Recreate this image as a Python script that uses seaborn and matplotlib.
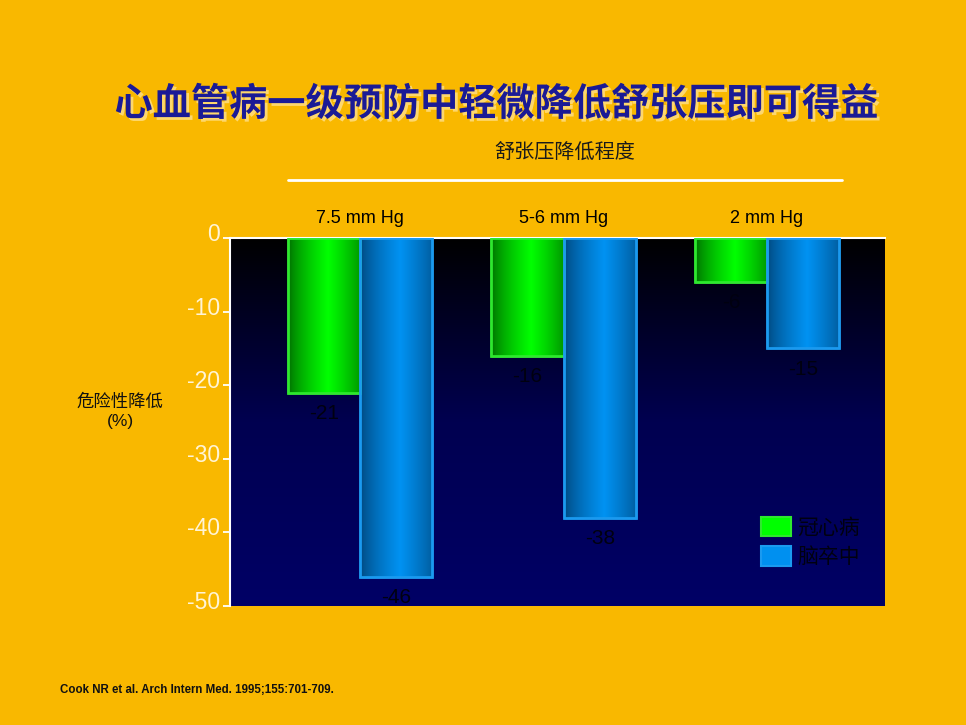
import matplotlib
matplotlib.use("Agg")
import matplotlib.pyplot as plt
import matplotlib.patheffects as pe
import matplotlib.transforms as mtransforms
from matplotlib.colors import LinearSegmentedColormap
import numpy as np
import pandas as pd
import seaborn as sns

# data
groups = ['7.5 mm Hg', '5-6 mm Hg', '2 mm Hg']
series = ['冠心病', '脑卒中']
chd = [-21, -16, -6]
stroke = [-46, -38, -15]
yticks = [0, -10, -20, -30, -40, -50]

df = pd.DataFrame({
    'group': groups * 2,
    'type': [series[0]] * 3 + [series[1]] * 3,
    'value': chd + stroke,
})

sns.set_theme(style='white')
plt.rcParams['font.family'] = ['Liberation Sans', 'Noto Sans CJK SC', 'DejaVu Sans']
plt.rcParams['axes.unicode_minus'] = False

BG = '#F9B800'
fig = plt.figure(figsize=(9.66, 7.25), dpi=100, facecolor=BG)
ax = fig.add_axes([230 / 966, 1 - 606 / 725, 655 / 966, 368 / 725])

palette = {series[0]: '#00FF00', series[1]: '#0090F0'}
sns.barplot(data=df, x='group', y='value', hue='type', order=groups,
            hue_order=series, palette=palette, width=0.71, ax=ax,
            saturation=1, legend=True, zorder=3)

ax.set_xlim(-0.64, 2.58)
ax.set_ylim(-50, 0)

# background gradient: black on top, navy below
bg = np.linspace(0, 1, 256).reshape(-1, 1)
bg_cmap = LinearSegmentedColormap.from_list('bg', ['#000000', '#000050', '#000066'])
ax.imshow(bg, cmap=bg_cmap, aspect='auto', extent=[0, 1, 0, 1],
          transform=ax.transAxes, zorder=0, origin='upper')

# horizontal shading on each bar
x = np.linspace(0, 1, 200)
shade = 1 - np.abs(x - 0.55) / 0.55
shade = np.clip(shade, 0, 1) ** 0.7
green_cmap = LinearSegmentedColormap.from_list('g', ['#006a00', '#00FF00'])
blue_cmap = LinearSegmentedColormap.from_list('b', ['#00457a', '#0092F2'])
edge = {series[0]: '#2EE82E', series[1]: '#1A9AF0'}
for cont, name, cm in zip(ax.containers, series, [green_cmap, blue_cmap]):
    for bar in cont:
        bx, by = bar.get_x(), bar.get_y()
        w, h = bar.get_width(), bar.get_height()
        im = ax.imshow(shade.reshape(1, -1), cmap=cm, aspect='auto',
                       extent=[bx, bx + w, by, by + h], zorder=3.5,
                       vmin=0, vmax=1)
        im.set_clip_path(bar)
        ax.add_patch(plt.Rectangle((bx, by), w, h, fill=False,
                                   edgecolor=edge[name], lw=2, zorder=4))
    labels = [f'{int(v)}' for v in cont.datavalues]
    ax.bar_label(cont, labels=labels, padding=8, color='#000010',
                 fontsize=15, zorder=5)

ax.set_xlim(-0.64, 2.58)
ax.set_ylim(-50, 0)

# legend
leg = ax.legend(loc='lower right', bbox_to_anchor=(0.99, 0.055), frameon=False,
                fontsize=15, handlelength=1.45, handleheight=1.05,
                labelspacing=0.42, handletextpad=0.3)
for txt in leg.get_texts():
    txt.set_color('#000010')
for hnd, name in zip(leg.legend_handles, series):
    hnd.set_edgecolor(edge[name])
    hnd.set_linewidth(1.5)

# axes styling
for s in ['bottom', 'right']:
    ax.spines[s].set_visible(False)
ax.spines['left'].set_color('white')
ax.spines['left'].set_linewidth(1.5)
ax.spines['top'].set_color('white')
ax.spines['top'].set_linewidth(1.5)
ax.set_yticks(yticks)
ax.tick_params(axis='y', left=True, direction='out', length=5, width=1.3,
               colors='white', labelcolor='#FFF4D6', labelsize=16.5, pad=2)
shift = mtransforms.ScaledTranslation(0, 6 / 100, fig.dpi_scale_trans)
for lab in ax.get_yticklabels():
    lab.set_transform(lab.get_transform() + shift)
ax.xaxis.tick_top()
ax.set_xticks(range(len(groups)))
ax.set_xticklabels(groups, fontsize=13, color='black')
ax.tick_params(axis='x', length=0, pad=8)
ax.set_xlabel('')
ax.set_ylabel('')

# text around the chart
fig.text(497 / 966, 1 - 104 / 725, '心血管病一级预防中轻微降低舒张压即可得益',
         ha='center', va='center', fontsize=27.5, fontweight='bold',
         color='#1A1A96', family=['Noto Sans CJK SC', 'DejaVu Sans'],
         path_effects=[pe.withSimplePatchShadow(offset=(2, -2),
                                                shadow_rgbFace='#FFE08A', alpha=0.8)])
fig.text(565 / 966, 1 - 152 / 725, '舒张压降低程度', ha='center', va='center',
         fontsize=14.5, color='#1a1a1a')
fig.add_artist(plt.Line2D([288 / 966, 842 / 966], [1 - 180 / 725, 1 - 180 / 725],
                          color='white', lw=2))
fig.text(120 / 966, 1 - 411 / 725, '危险性降低\n(%)', ha='center', va='center',
         fontsize=12.5, color='#111111', linespacing=1.35)
fig.text(60 / 966, 1 - 690 / 725, 'Cook NR et al. Arch Intern Med. 1995;155:701-709.',
         ha='left', va='center', fontsize=8.3, fontweight='bold', color='#111111')

fig.savefig('out.png', dpi=100, facecolor=BG)
